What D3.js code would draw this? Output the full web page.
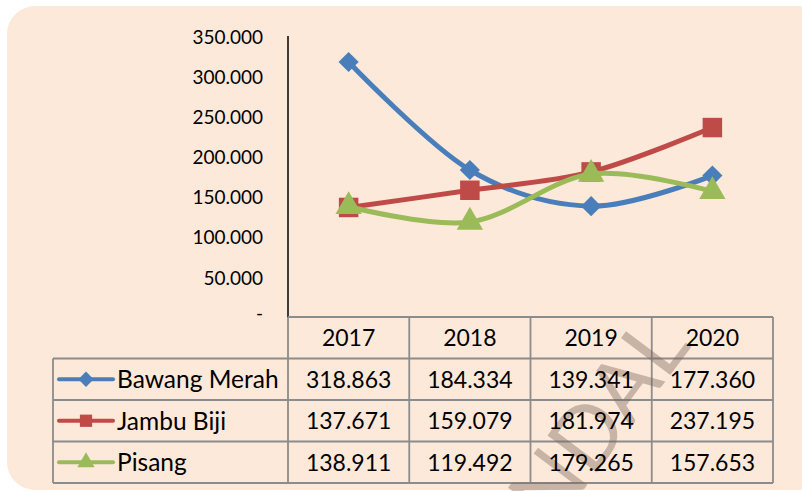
<!DOCTYPE html>
<html>
<head>
<meta charset="utf-8">
<script src="https://cdn.jsdelivr.net/npm/d3@7"></script>
<style>
  body { margin: 0; background: #fff; }
  svg text { font-family: Lato, "Open Sans", sans-serif; fill: #000; }
</style>
</head>
<body>
<svg id="grafica" width="802" height="491"></svg>
<script>
// los datos de la gráfica
const years = ["2017", "2018", "2019", "2020"];
const seriesNames = ["Bawang Merah", "Jambu Biji", "Pisang"];
const bawangMerah = [318863, 184334, 139341, 177360];
const jambuBiji = [137671, 159079, 181974, 237195];
const pisang = [138911, 119492, 179265, 157653];
const yTicks = [0, 50000, 100000, 150000, 200000, 250000, 300000, 350000];

const colors = ["#4A7EBB", "#BE4B48", "#9BBB59"];
const symbols = [d3.symbolDiamond2, d3.symbolSquare, d3.symbolTriangle];
const values = [bawangMerah, jambuBiji, pisang];

const svg = d3.select("#grafica");

// formato con punto como separador de miles
const loc = d3.formatLocale({decimal: ",", thousands: ".", grouping: [3], currency: ["", ""]});
const fmtThousands = loc.format(",.0f");
const fmtCell = v => fmtThousands(v); // 318863 -> 318.863
const fmtTick = v => v === 0 ? "-" : fmtThousands(v);

// fondo
svg.append("rect")
  .attr("x", 7).attr("y", 6)
  .attr("width", 820).attr("height", 484)
  .attr("rx", 28).attr("ry", 28)
  .attr("fill", "#FDE9D9");

// escalas
const x = d3.scaleBand().domain(years).range([288, 773]);
const y = d3.scaleLinear().domain([0, 350000]).range([318, 37]);
const rowY = d3.scaleBand().domain(["head"].concat(seriesNames)).range([317, 483]);

// eje y (solo línea y etiquetas)
svg.append("line")
  .attr("x1", 288).attr("x2", 288)
  .attr("y1", y(350000) - 1).attr("y2", y(0))
  .attr("stroke", "#000").attr("stroke-width", 1.5);

svg.append("g").selectAll("text")
  .data(yTicks)
  .enter().append("text")
  .attr("x", 263)
  .attr("y", d => y(d))
  .attr("dy", d => d === 0 ? "0.1em" : "0.35em")
  .attr("text-anchor", "end")
  .attr("font-size", 19)
  .text(fmtTick);

// tabla de datos
const grid = svg.append("g").attr("stroke", "#8C8C8C").attr("stroke-width", 1.8).attr("fill", "none");
const left = 53, right = x.range()[1];
// líneas horizontales
grid.append("line").attr("x1", 288).attr("x2", right).attr("y1", rowY("head")).attr("y2", rowY("head"));
seriesNames.forEach(s => {
  grid.append("line").attr("x1", left).attr("x2", right).attr("y1", rowY(s)).attr("y2", rowY(s));
});
grid.append("line").attr("x1", left).attr("x2", right).attr("y1", rowY.range()[1]).attr("y2", rowY.range()[1]);
// líneas verticales
grid.append("line").attr("x1", left).attr("x2", left).attr("y1", rowY(seriesNames[0])).attr("y2", rowY.range()[1]);
years.forEach(yr => {
  grid.append("line").attr("x1", x(yr)).attr("x2", x(yr)).attr("y1", rowY("head")).attr("y2", rowY.range()[1]);
});
grid.append("line").attr("x1", right).attr("x2", right).attr("y1", rowY("head")).attr("y2", rowY.range()[1]);

// marca de agua
svg.append("text")
  .attr("transform", "translate(692,346) rotate(-53)")
  .attr("text-anchor", "end")
  .attr("font-family", "Liberation Sans, Arial, sans-serif")
  .attr("font-size", 86)
  .style("fill", "rgba(120,100,90,0.4)")
  .text("KENDAL");

// encabezados de años
svg.append("g").selectAll("text")
  .data(years)
  .enter().append("text")
  .attr("x", d => x(d) + x.bandwidth() / 2)
  .attr("y", rowY("head") + rowY.bandwidth() / 2)
  .attr("dy", "0.36em")
  .attr("text-anchor", "middle")
  .attr("font-size", 23)
  .text(d => d);

// filas con valores y leyenda
seriesNames.forEach((s, i) => {
  const cy = rowY(s) + rowY.bandwidth() / 2;
  const row = svg.append("g");
  row.selectAll("text.val")
    .data(values[i])
    .enter().append("text")
    .attr("class", "val")
    .attr("x", (d, j) => x(years[j]) + x.bandwidth() / 2)
    .attr("y", cy)
    .attr("dy", "0.36em")
    .attr("text-anchor", "middle")
    .attr("font-size", 23)
    .text(fmtCell);

  row.append("line")
    .attr("x1", 59).attr("x2", 113)
    .attr("y1", cy).attr("y2", cy)
    .attr("stroke", colors[i]).attr("stroke-width", 4)
    .attr("stroke-linecap", "round");
  row.append("path")
    .attr("transform", `translate(86,${cy})`)
    .attr("d", d3.symbol().type(symbols[i]).size(i === 2 ? 130 : 150)())
    .attr("fill", colors[i]);
  row.append("text")
    .attr("x", 117).attr("y", cy)
    .attr("dy", "0.36em")
    .attr("font-size", 24.5)
    .text(s);
});

// líneas suavizadas y marcadores
const line = d3.line()
  .x((d, j) => x(years[j]) + x.bandwidth() / 2)
  .y(d => y(d))
  .curve(d3.curveCardinal.tension(0));

values.forEach((vals, i) => {
  svg.append("path")
    .datum(vals)
    .attr("d", line)
    .attr("fill", "none")
    .attr("stroke", colors[i])
    .attr("stroke-width", 5)
    .attr("stroke-linecap", "round");

  svg.append("g").selectAll("path")
    .data(vals)
    .enter().append("path")
    .attr("transform", (d, j) => `translate(${x(years[j]) + x.bandwidth() / 2},${y(d)})`)
    .attr("d", d3.symbol().type(symbols[i]).size(i === 0 ? 260 : (i === 1 ? 380 : 300))())
    .attr("fill", colors[i]);
});
</script>
</body>
</html>
